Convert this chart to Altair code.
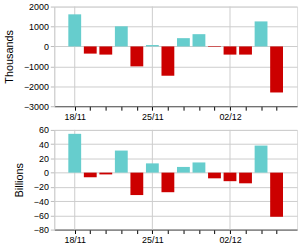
import altair as alt
import pandas as pd

dates = ["18/11", "19/11", "20/11", "21/11", "22/11", "25/11", "26/11",
         "27/11", "28/11", "29/11", "02/12", "03/12", "04/12", "05/12"]
thousands = [1610, -360, -410, 1010, -1000, 70, -1470, 415, 615, -30, -410, -410, 1255, -2310]
billions = [54.5, -6.5, -2.5, 31, -31.5, 13, -27.5, 8, 14.3, -8, -12, -15, 38, -62]
label_dates = ["18/11", "25/11", "02/12"]

idx = list(range(1, len(dates) + 1))
df = pd.DataFrame({"i": idx, "date": dates, "th": thousands, "bn": billions})
label_idx = [dates.index(d) + 1 for d in label_dates]
grid_df = pd.DataFrame({"g": label_idx})

label_map = "{" + ",".join(f"'{i}':'{d}'" for i, d in zip(label_idx, label_dates)) + "}"
label_expr = f"({label_map})[''+datum.value] || ''"

pos_col = "#66CDCD"
neg_col = "#CC0000"

xscale = alt.Scale(domain=[0, 15], nice=False, zero=False)
xaxis = alt.Axis(values=idx, labelExpr=label_expr, title=None, grid=False,
                 tickSize=4, tickColor="#000000", domainColor="#555555",
                 labelFontSize=9, labelColor="#000000", labelPadding=2,
                 labelFont="Liberation Sans", labelFlush=False, labelOverlap=False)


def panel(field, domain, step, title):
    yaxis = alt.Axis(values=list(range(domain[0], domain[1] + 1, step)), title=title,
                     format="d",
                     grid=True, gridColor="#CCCCCC", tickColor="#BBBBBB",
                     domainColor="#CCCCCC", tickSize=4, labelFontSize=9,
                     labelColor="#000000", labelFont="Liberation Sans",
                     titleFont="Liberation Sans", titleFontSize=11,
                     titleFontWeight="normal", titleColor="#000000",
                     titlePadding=9, labelPadding=2)
    grid = alt.Chart(grid_df).mark_rule(color="#CCCCCC", strokeWidth=1).encode(
        x=alt.X("g:Q", scale=xscale, axis=xaxis))
    bars = alt.Chart(df).mark_bar(size=13).encode(
        x=alt.X("i:Q", scale=xscale, axis=xaxis),
        y=alt.Y(f"{field}:Q", scale=alt.Scale(domain=domain, nice=False), axis=yaxis),
        color=alt.condition(f"datum.{field} >= 0", alt.value(pos_col), alt.value(neg_col)),
    )
    return alt.layer(grid, bars).properties(width=246, height=101)


top = panel("th", [-3000, 2000], 1000, "Thousands")
bottom = panel("bn", [-80, 60], 20, "Billions")

chart = alt.vconcat(top, bottom, spacing=24, bounds="flush").properties(
    padding={"left": 3, "top": 0, "right": 2, "bottom": 0},
).configure_view(fill="#FFFFEE", stroke="#CCCCCC").configure(background="#FFFFFF")

chart.save("out.html", embed_options={"renderer": "svg", "actions": False})
